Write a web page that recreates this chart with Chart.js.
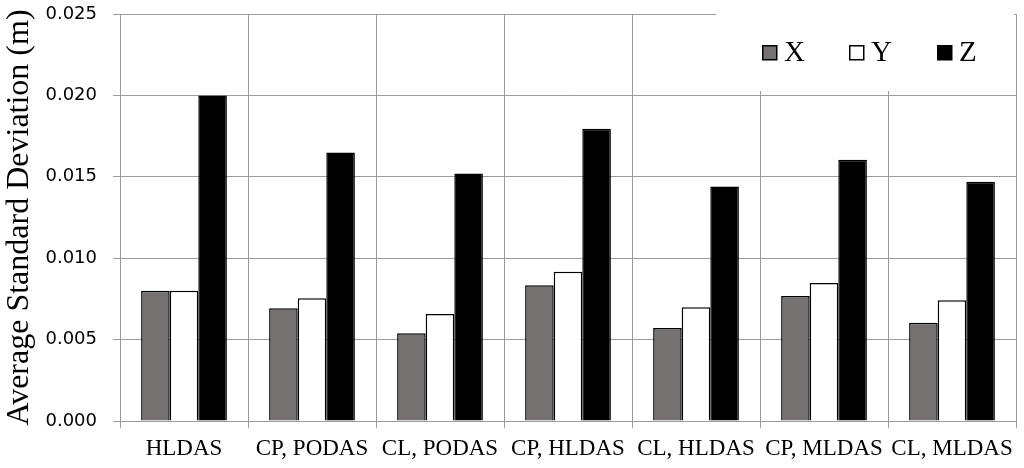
<!DOCTYPE html>
<html>
<head>
<meta charset="utf-8">
<script src="https://cdn.jsdelivr.net/npm/chart.js@4.4.1/dist/chart.umd.min.js"></script>
<style>
html,body{margin:0;padding:0;background:#fff;}
#wrap{width:1024px;height:468px;}
</style>
</head>
<body>
<div id="wrap"><canvas id="c" width="1024" height="468"></canvas></div>
<script>
const categories = ['HLDAS', 'CP, PODAS', 'CL, PODAS', 'CP, HLDAS', 'CL, HLDAS', 'CP, MLDAS', 'CL, MLDAS'];
const seriesNames = ['X', 'Y', 'Z'];
const xValues = [0.0080, 0.00692, 0.00539, 0.00834, 0.00571, 0.00768, 0.00604];
const yValues = [0.0080, 0.00754, 0.00657, 0.00917, 0.00698, 0.00848, 0.00741];
const zValues = [0.0200, 0.0165, 0.0152, 0.01795, 0.01441, 0.01605, 0.0147];
const yTicks = [0, 0.005, 0.010, 0.015, 0.020, 0.025];
const yTitle = 'Average Standard Deviation (m)';

const fills = ['#767171', '#ffffff', '#000000'];
const gridColor = '#9c9c9c';
const serif = "'Liberation Serif', 'Times New Roman', serif";

const legendPlugin = {
  id: 'insideLegend',
  afterDraw(chart) {
    const ctx = chart.ctx;
    ctx.save();
    ctx.fillStyle = '#ffffff';
    ctx.fillRect(716, 0, 298, 91);
    const xs = [762, 849, 937];
    ctx.font = '29px ' + serif;
    ctx.textBaseline = 'middle';
    ctx.textAlign = 'left';
    chart.data.datasets.forEach((ds, i) => {
      const bx = xs[i], by = 45;
      ctx.fillStyle = ds.backgroundColor;
      ctx.fillRect(bx, by, 15, 15);
      ctx.strokeStyle = '#000';
      ctx.lineWidth = 1.5;
      ctx.strokeRect(bx + 0.75, by + 0.75, 14, 14);
      ctx.fillStyle = '#000';
      ctx.fillText(ds.label, bx + 22, 53);
    });
    ctx.restore();
  }
};

const datasets = [xValues, yValues, zValues].map((vals, i) => ({
  label: seriesNames[i],
  data: vals,
  backgroundColor: fills[i],
  borderColor: '#000000',
  borderWidth: 1.5,
  categoryPercentage: 0.67,
  barPercentage: 1.0
}));

new Chart(document.getElementById('c'), {
  type: 'bar',
  data: { labels: categories, datasets },
  options: {
    responsive: false,
    animation: false,
    layout: { padding: { top: 14, right: 8, left: 0, bottom: 0 } },
    plugins: { legend: { display: false }, tooltip: { enabled: false } },
    scales: {
      x: {
        grid: { offset: true, color: gridColor, lineWidth: 1, tickLength: 7, drawTicks: true },
        border: { color: gridColor, width: 1 },
        ticks: { color: '#000', font: { family: serif, size: 23 }, padding: 7, maxRotation: 0, autoSkip: false },
        afterFit(scale) { scale.height = 47; scale.paddingLeft = 0; scale.paddingRight = 0; }
      },
      y: {
        min: 0,
        max: 0.025,
        afterBuildTicks(scale) { scale.ticks = yTicks.map(v => ({ value: v })); },
        grid: { color: gridColor, lineWidth: 1, tickLength: 7 },
        border: { color: gridColor, width: 1 },
        ticks: {
          color: '#000',
          font: { family: "'DejaVu Sans', sans-serif", size: 18 },
          padding: 16,
          callback: v => Number(v).toFixed(3)
        },
        title: {
          display: true,
          text: yTitle,
          color: '#000',
          font: { family: serif, size: 32 },
          padding: { top: 0, bottom: 0 }
        },
        afterFit(scale) { scale.width = 120; scale.paddingTop = 0; scale.paddingBottom = 0; }
      }
    }
  },
  plugins: [legendPlugin]
});
</script>
</body>
</html>
